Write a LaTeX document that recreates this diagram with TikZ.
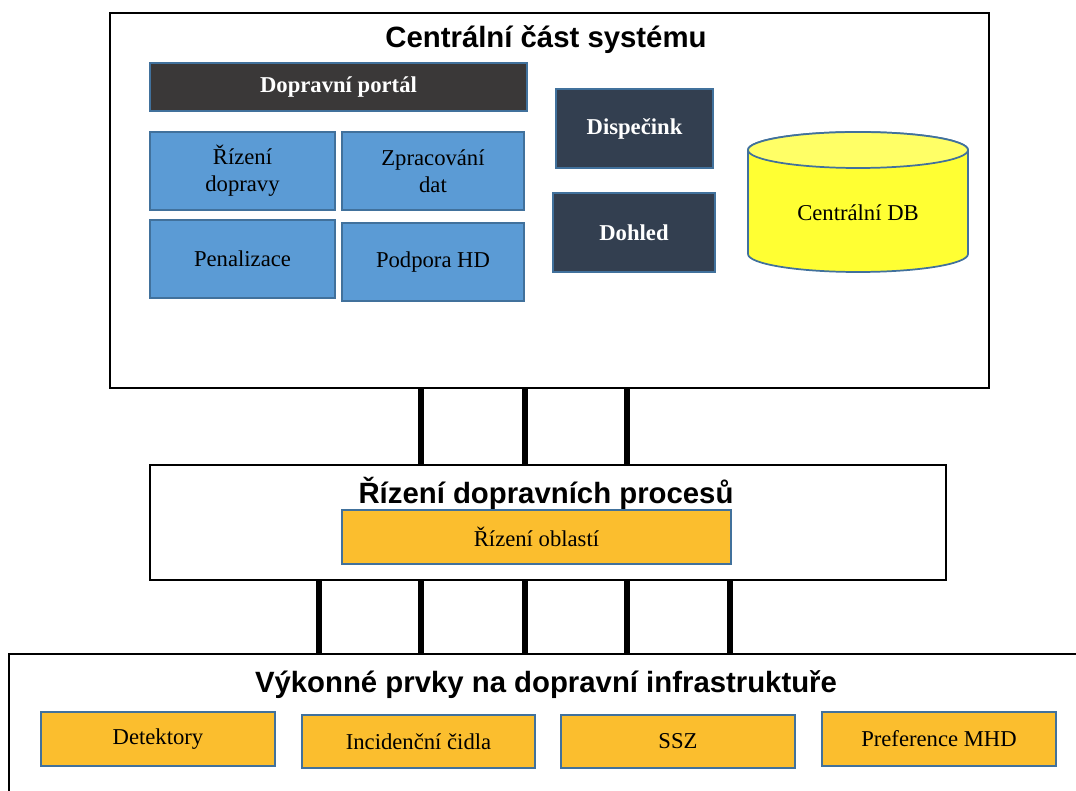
\documentclass[tikz,border=0pt]{standalone}
\usepackage{fontspec}
\setmainfont{Liberation Serif}
\newfontfamily\titlefont{Liberation Sans}
\usepackage{tikz}
\usetikzlibrary{fit}
\definecolor{edgeblue}{HTML}{41719C}
\definecolor{modblue}{HTML}{5B9BD5}
\definecolor{portalgray}{HTML}{3A3838}
\definecolor{navy}{HTML}{333F50}
\definecolor{amber}{HTML}{FBBE2E}
\definecolor{dbyellow}{HTML}{FFFF33}
\definecolor{dbtop}{HTML}{FFFF66}
\tikzset{
  layer/.style={draw=black, line width=2pt, fill=white, inner sep=0pt},
  layertitle/.style={font=\titlefont\bfseries\fontsize{22}{26}\selectfont},
  module/.style={draw=edgeblue, line width=1.3pt, inner sep=0pt},
  modtext/.style={align=center, font=\fontsize{17}{20}\selectfont},
  darktext/.style={align=center, text=white, font=\bfseries\fontsize{17}{20}\selectfont},
  link/.style={line width=3.8pt},
}

\begin{document}
\begin{tikzpicture}[x=0.75pt,y=-0.75pt]
\useasboundingbox (0,0) rectangle (1076,791);
% layers
\node[layer, fit={(110,13) (989,388)}] (central) {};
\node[layer, fit={(150,465) (946,580)}] (procesy) {};
\node[layer, fit={(9,654) (1090,810)}] (vykonne) {};
\foreach \x in {421,525,627}{\draw[link] (central.south -| \x,0) -- (procesy.north -| \x,0);}
\foreach \x in {319,421,525,627,730}{\draw[link] (procesy.south -| \x,0) -- (vykonne.north -| \x,0);}
\node[layertitle] (centraltitle) at (546,40) {Centrální část systému};
\node[layertitle] (procesytitle) at (546,493) {Řízení dopravních procesů};
\node[layertitle] (vykonnetitle) at (546,685) {Výkonné prvky na dopravní infrastruktuře};
% central part
\node[module, fill=portalgray, fit={(150,63) (527,111)}, label={[darktext]center:Dopravní portál}] (portal) {};
\node[module, fill=modblue, fit={(150,132) (335,210)}, label={[modtext]center:Řízení\\dopravy}] (rizeni) {};
\node[module, fill=modblue, fit={(342,132) (524,210)}, label={[modtext]center:Zpracování\\dat}] (zpracovani) {};
\node[module, fill=modblue, fit={(150,220) (335,298)}, label={[modtext]center:Penalizace}] (penalizace) {};
\node[module, fill=modblue, fit={(342,223) (524,301)}, label={[modtext]center:Podpora HD}] (podpora) {};
\node[module, fill=navy, fit={(556,89) (713,168)}, label={[darktext]center:Dispečink}] (dispecink) {};
\node[module, fill=navy, fit={(553,193) (715,272)}, label={[darktext]center:Dohled}] (dohled) {};
\draw[draw=edgeblue, line width=1.3pt, fill=dbyellow] (748,150) -- (748,254)
  arc[start angle=180, end angle=360, x radius=82.5pt, y radius=13.5pt] -- (968,150)
  arc[start angle=0, end angle=180, x radius=82.5pt, y radius=13.5pt] -- cycle;
\draw[draw=edgeblue, line width=1.3pt, fill=dbtop] (858,150) ellipse [x radius=82.5pt, y radius=13.5pt];
\node[modtext] (db) at (858,213) {Centrální DB};
% processes
\node[module, fill=amber, fit={(342,510) (731,564)}, label={[modtext]center:Řízení oblastí}] (oblasti) {};
% infrastructure
\node[module, fill=amber, fit={(41,712) (275,766)}, label={[modtext]center:Detektory}] (detektory) {};
\node[module, fill=amber, fit={(302,715) (535,768)}, label={[modtext]center:Incidenční čidla}] (cidla) {};
\node[module, fill=amber, fit={(561,715) (795,768)}, label={[modtext]center:SSZ}] (ssz) {};
\node[module, fill=amber, fit={(822,712) (1056,766)}, label={[modtext]center:Preference MHD}] (mhd) {};
\end{tikzpicture}
\end{document}
